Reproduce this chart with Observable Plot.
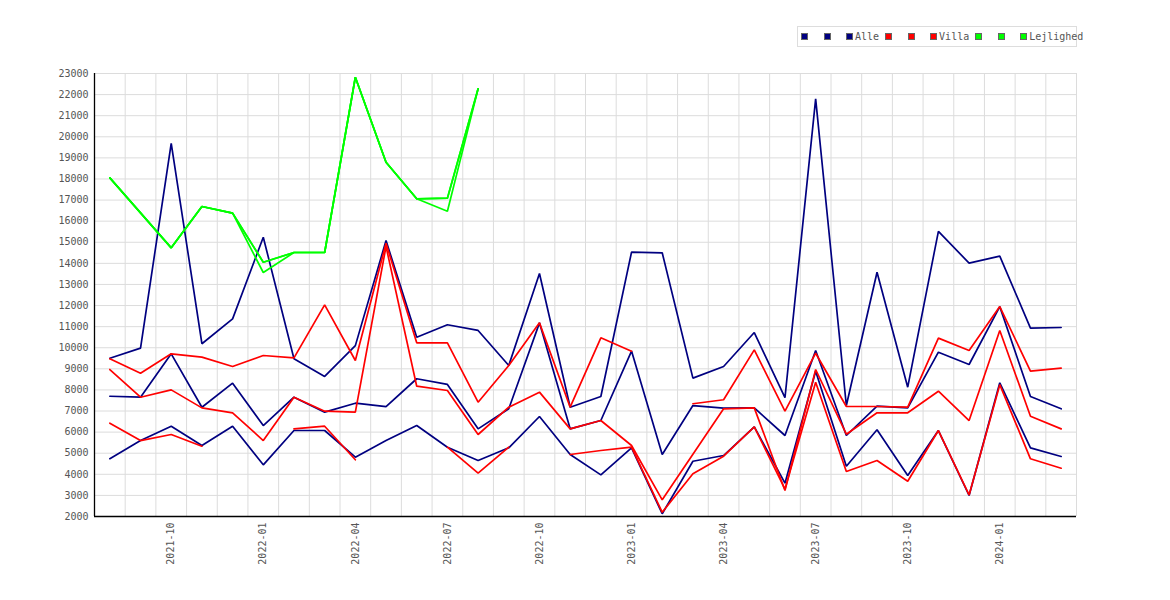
<!DOCTYPE html>
<html>
<head>
<meta charset="utf-8">
<script src="https://cdn.jsdelivr.net/npm/d3@7"></script>
<script src="https://cdn.jsdelivr.net/npm/@observablehq/plot@0.6"></script>
<style>
  html, body { margin: 0; padding: 0; background: #fff; }
  #wrap { position: relative; width: 1170px; height: 600px; }
  #legend {
    position: absolute; left: 797px; top: 26px; width: 278px; height: 19px;
    border: 1px solid #ddd; background: #fff;
    font-family: "DejaVu Sans Mono", monospace; font-size: 10px; color: #555;
    display: flex; align-items: center; white-space: nowrap; overflow: visible;
  }
  #legend > span { flex-shrink: 0; }
  .sw { display: inline-block; width: 5px; height: 5px; border: 1px solid #666; }
  .gap { display: inline-block; width: 15.5px; }
  .lab { margin-left: 2px; margin-right: 6px; }
</style>
</head>
<body>
<div id="wrap"><div id="chart"></div><div id="legend"></div></div>
<script>
const months = ["2021-08","2021-09","2021-10","2021-11","2021-12",
  "2022-01","2022-02","2022-03","2022-04","2022-05","2022-06","2022-07","2022-08","2022-09","2022-10","2022-11","2022-12",
  "2023-01","2023-02","2023-03","2023-04","2023-05","2023-06","2023-07","2023-08","2023-09","2023-10","2023-11","2023-12",
  "2024-01","2024-02","2024-03"];

const alleHi  = [9500, 9980, 19690, 10190, 11370, 15240, 9480, 8640, 10100, 15080, 10500, 11090, 10820, 9160, 13520, 7180, 7690, 14530, 14500, 8560, 9110, 10720, 7630, 21800, 7260, 13580, 8130, 15520, 14010, 14340, 10930, 10960];
const alleMid = [7700, 7655, 9710, 7180, 8320, 6310, 7655, 6945, 7370, 7210, 8530, 8260, 6155, 7105, 11180, 6155, 6550, 9840, 4940, 7260, 7135, 7150, 5840, 9870, 5840, 7230, 7150, 9790, 9205, 11950, 7690, 7105];
const alleLo  = [4740, 5600, 6280, 5365, 6280, 4450, 6076, 6076, 4810, 5600, 6313, 5285, 4655, 5255, 6740, 4940, 3975, 5255, 2130, 4620, 4890, 6250, 3580, 8890, 4385, 6110, 3945, 6076, 2995, 8340, 5255, 4845];

const villaHi  = [9475, 8795, 9712, 9554, 9110, 9631, 9522, 12035, 9394, 14950, 10234, 10234, 7418, 9157, 11180, 7181, 10471, 9836, null, 7345, 7535, 9900, 6992, 9740, 7214, 7214, 7181, 10455, 9868, 11954, 8890, 9030];
const villaMid = [8968, 7655, 8003, 7150, 6915, 5600, 7655, 6992, 6945, 14800, 8177, 7973, 5887, 7181, 7894, 6155, 6550, 5365, 2790, 4950, 7105, 7150, 3232, 8968, 5900, 6915, 6915, 7940, 6550, 10816, 6754, 6155];
const villaLo  = [6422, 5600, 5887, 5333, null, null, 6155, 6280, 4688, null, null, 5285, 4054, 5285, null, 4939, 5130, 5285, 2200, 4024, 4860, 6250, 3300, 8367, 4133, 4654, 3673, 6076, 3020, 8250, 4735, 4290];

const nulls19 = [null,null,null,null,null,null,null,null,null,null,null,null,null,null,null,null,null,null,null];
const lejl1 = [18055, 16395, 14735, 16696, 16380, 14054, 14514, 14514, 22823, 18794, 17060, 17090, 22273].concat(nulls19);
const lejl2 = [18055, 16395, 14735, 16696, 16380, 13566, 14514, 14514, 22823, 18794, 17060, 16470, 22273].concat(nulls19);
const lejl3 = [18055, 16395, 14735, 16696, 16380, 14054, 14514, 14514, 22823, 18794, 17060, 17090, 22273].concat(nulls19);

const groups = ["Alle", "Villa", "Lejlighed"];
const colors = ["#000080", "#ff0000", "#00ff00"];
const groupSeries = [[alleHi, alleMid, alleLo], [villaHi, villaMid, villaLo], [lejl1, lejl2, lejl3]];

const yTicks = d3.range(2000, 23001, 1000);
const labelIdx = d3.range(2, months.length, 3);
const edges = d3.range(0.5, months.length, 1);

function rowsFor(g) {
  const out = [];
  groupSeries[g].forEach((vals, k) => vals.forEach((v, i) => out.push({i, v: v == null ? NaN : v, key: groups[g] + k})));
  return out;
}

const lineMarks = groups.map((g, gi) =>
  Plot.line(rowsFor(gi), {x: "i", y: "v", z: "key", stroke: colors[gi], strokeWidth: 1.7, strokeLinejoin: "miter"}));

const chart = Plot.plot({
  width: 1170, height: 600,
  marginLeft: 94, marginRight: 94, marginTop: 73, marginBottom: 84,
  x: {type: "linear", domain: [-0.5, months.length - 0.5]},
  y: {domain: [2000, 23000]},
  style: {fontFamily: "'DejaVu Sans Mono', monospace", fontSize: "10px", color: "#555", background: "#fff", overflow: "visible"},
  marks: [
    Plot.gridY(yTicks.slice(1), {stroke: "#dcdcdc", strokeOpacity: 1}),
    Plot.gridX(edges, {stroke: "#dcdcdc", strokeOpacity: 1}),
    Plot.axisY(yTicks, {tickSize: 0, tickPadding: 6, label: null, tickFormat: d => String(d)}),
    Plot.axisX(labelIdx, {tickSize: 0, tickPadding: 6, tickRotate: -90, tickFormat: i => months[i], label: null}),
    ...lineMarks,
    Plot.ruleX([-0.5], {stroke: "#000", strokeWidth: 1.3}),
    Plot.ruleY([2000], {stroke: "#000", strokeWidth: 1.3})
  ]
});
document.getElementById("chart").appendChild(chart);

const legend = document.getElementById("legend");
let html = '<span style="display:inline-block;width:3px"></span>';
groups.forEach((g, gi) => {
  for (let k = 0; k < 3; k++) {
    html += `<span class="sw" style="background:${colors[gi]}"></span>`;
    if (k < 2) html += '<span class="gap"></span>';
  }
  html += `<span class="lab">${g}</span>`;
});
legend.innerHTML = html;
</script>
</body>
</html>
